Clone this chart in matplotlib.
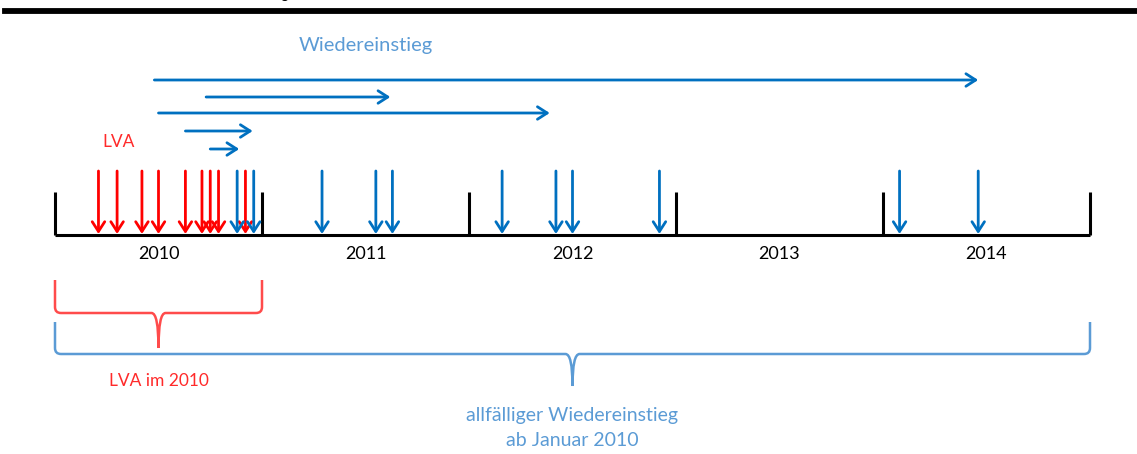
import matplotlib.pyplot as plt
from matplotlib.path import Path
from matplotlib.patches import PathPatch

plt.rcParams['font.family'] = ['Lato', 'DejaVu Sans']

# timeline data (fractional years)
years = [2010, 2011, 2012, 2013, 2014]
year_edges = [2010, 2011, 2012, 2013, 2014, 2015]
lva_dates = [2010.21, 2010.30, 2010.42, 2010.50, 2010.63, 2010.71, 2010.75, 2010.79, 2010.92]
reentry_dates = [2010.88, 2010.96, 2011.29, 2011.55, 2011.63, 2012.16,
                 2012.42, 2012.50, 2012.92, 2014.08, 2014.46]
span_starts = [2010.48, 2010.73, 2010.50, 2010.63, 2010.75]
span_ends = [2014.46, 2011.62, 2012.39, 2010.955, 2010.89]
brace_lva = (2010, 2011)
brace_reentry = (2010, 2015)

BLUE = '#0070c0'
RED = '#ff0000'
LIGHT_BLUE = '#5b9bd5'
LIGHT_RED = '#ff4b4b'

PX_PER_YEAR = 207.0


def draw_arrow(ax, start, end, color):
    ax.annotate('', xy=end, xytext=start,
                arrowprops=dict(arrowstyle='->,head_length=0.7,head_width=0.45',
                                color=color, lw=2.0, shrinkA=0, shrinkB=0))


def draw_brace(ax, x0, x1, y_top, y_bar, y_tip, color):
    xm = (x0 + x1) / 2
    rx = 6 / PX_PER_YEAR
    ry = 6
    cx = 7 / PX_PER_YEAR
    verts = [(x0, y_top), (x0, y_bar - ry),
             (x0, y_bar), (x0 + rx, y_bar),
             (xm - cx, y_bar),
             (xm, y_bar), (xm, y_tip),
             (xm, y_bar), (xm + cx, y_bar),
             (x1 - rx, y_bar),
             (x1, y_bar), (x1, y_bar - ry),
             (x1, y_top)]
    codes = [Path.MOVETO, Path.LINETO,
             Path.CURVE3, Path.CURVE3,
             Path.LINETO,
             Path.CURVE3, Path.CURVE3,
             Path.CURVE3, Path.CURVE3,
             Path.LINETO,
             Path.CURVE3, Path.CURVE3,
             Path.LINETO]
    ax.add_patch(PathPatch(Path(verts, codes), fill=False, edgecolor=color, lw=1.8))


fig = plt.figure(figsize=(11.37, 4.54), dpi=100)
ax = fig.add_axes([0, 0, 1, 1])
ax.set_xlim(2010 - 55 / PX_PER_YEAR, 2010 + (1137 - 55) / PX_PER_YEAR)
ax.set_ylim(454, 0)
ax.axis('off')

# thick rule at the top and the cut-off text above it (cut off in the original too)
ax.axhline(11, xmin=0.004, xmax=1, color='black', lw=4.2)
fig.text(286 / 1137, 1 + 1.5 / 454, 'g,', ha='center', va='baseline', fontsize=11, color='black')

# time axis
ax.plot([year_edges[0], year_edges[-1]], [235, 235], color='black', lw=2.2, solid_capstyle='butt')
ax.vlines(year_edges, 192, 235, color='black', lw=2.2)
for y in years:
    ax.text(y + 0.5, 254, str(y), ha='center', va='center', fontsize=13, color='black')

# LVA and re-entry events
for d in lva_dates:
    draw_arrow(ax, (d, 171), (d, 234), RED)
for d in reentry_dates:
    draw_arrow(ax, (d, 171), (d, 234), BLUE)

# durations until re-entry
rows = [80, 97, 113, 131, 149]
for s, e, y in zip(span_starts, span_ends, rows):
    draw_arrow(ax, (s, y), (e, y), BLUE)

ax.text(2010 + (366 - 55) / PX_PER_YEAR, 46, 'Wiedereinstieg', ha='center', va='center',
        fontsize=14.5, color=LIGHT_BLUE)
ax.text(2010 + (119 - 55) / PX_PER_YEAR, 142, 'LVA', ha='center', va='center',
        fontsize=12.5, color='#ff2a2a')

# braces
draw_brace(ax, brace_lva[0], brace_lva[1], 280, 313, 348, LIGHT_RED)
draw_brace(ax, brace_reentry[0], brace_reentry[1], 322, 354, 386, LIGHT_BLUE)

ax.text(sum(brace_lva) / 2, 381, 'LVA im 2010', ha='center', va='center',
        fontsize=12.5, color='#ff2a2a')
ax.text(sum(brace_reentry) / 2, 415, 'allfälliger Wiedereinstieg', ha='center', va='center',
        fontsize=14, color=LIGHT_BLUE)
ax.text(sum(brace_reentry) / 2, 440, 'ab Januar 2010', ha='center', va='center',
        fontsize=14, color=LIGHT_BLUE)

fig.savefig('out.png', dpi=100)
